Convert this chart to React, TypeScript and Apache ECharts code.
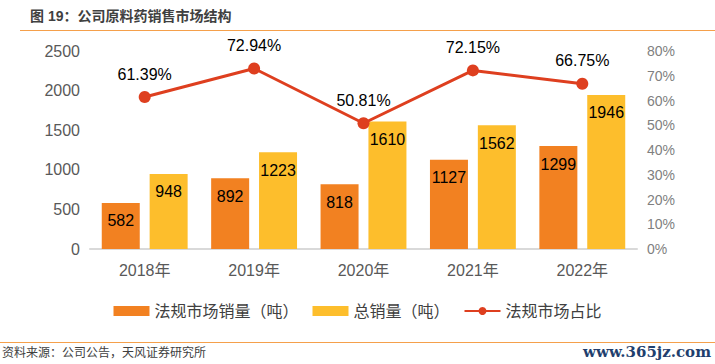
import React, { useEffect, useRef } from "react";
import * as echarts from "echarts";

const categories = ["2018年", "2019年", "2020年", "2021年", "2022年"];
const regulatedSales = [582, 892, 818, 1127, 1299];
const totalSales = [948, 1223, 1610, 1562, 1946];
const regulatedShare = [0.6139, 0.7294, 0.5081, 0.7215, 0.6675];

const FONT = '"Liberation Sans", Arial, "Noto Sans CJK SC", sans-serif';

export default function App() {
  const ref = useRef<HTMLDivElement>(null);
  useEffect(() => {
    if (!ref.current) return;
    const chart = echarts.init(ref.current, null, { renderer: "svg" });
    chart.setOption({
      animation: false,
      textStyle: { fontFamily: FONT },
      graphic: [
        {
          type: "text",
          left: 30,
          top: 9,
          style: {
            text: "图 19：公司原料药销售市场结构",
            fill: "#404040",
            font: `bold 14px ${FONT}`,
          },
        },
        {
          type: "line",
          shape: { x1: 20, y1: 30.5, x2: 715, y2: 30.5 },
          style: { stroke: "#F5A04B", lineWidth: 1 },
        },
        {
          type: "line",
          shape: { x1: 0, y1: 342.5, x2: 715, y2: 342.5 },
          style: { stroke: "#F5A04B", lineWidth: 1 },
        },
        {
          type: "text",
          left: 2,
          top: 347,
          style: {
            text: "资料来源：公司公告，天风证券研究所",
            fill: "#404040",
            font: `12px ${FONT}`,
          },
        },
        {
          type: "text",
          right: 4,
          top: 344,
          style: {
            text: "www.365jz.com",
            fill: "#1F3F6E",
            font: `bold 15px "DejaVu Serif", serif`,
          },
        },
      ],
      legend: {
        top: 298,
        left: "center",
        itemWidth: 36,
        itemHeight: 10,
        itemGap: 14,
        textStyle: { color: "#404040", fontSize: 16, fontFamily: FONT },
        data: [
          { name: "法规市场销量（吨）", icon: "rect" },
          { name: "总销量（吨）", icon: "rect" },
          { name: "法规市场占比" },
        ],
      },
      grid: { left: 90, right: 78, top: 51, bottom: 115 },
      xAxis: {
        type: "category",
        data: categories,
        axisTick: { show: false },
        axisLine: { lineStyle: { color: "#D9D9D9", width: 2 } },
        axisLabel: { color: "#595959", fontSize: 16, margin: 13 },
      },
      yAxis: [
        {
          type: "value",
          min: 0,
          max: 2500,
          interval: 500,
          splitLine: { show: false },
          axisLabel: {
            color: "#595959",
            fontSize: 16,
            margin: 10,
            formatter: (v: number) => String(v),
          },
        },
        {
          type: "value",
          min: 0,
          max: 0.8,
          interval: 0.1,
          splitLine: { show: false },
          axisLabel: {
            color: "#7F7F7F",
            fontSize: 14,
            margin: 10,
            formatter: (v: number) => `${Math.round(v * 100)}%`,
          },
        },
      ],
      series: [
        {
          name: "法规市场销量（吨）",
          type: "bar",
          data: regulatedSales,
          barWidth: 38,
          barGap: "26%",
          itemStyle: { color: "#F28121" },
          label: {
            show: true,
            position: "insideTop",
            distance: 10,
            color: "#000",
            fontSize: 16,
          },
        },
        {
          name: "总销量（吨）",
          type: "bar",
          data: totalSales,
          barWidth: 38,
          itemStyle: { color: "#FDBE2C" },
          label: {
            show: true,
            position: "insideTop",
            distance: 10,
            color: "#000",
            fontSize: 16,
          },
        },
        {
          name: "法规市场占比",
          type: "line",
          yAxisIndex: 1,
          data: regulatedShare,
          symbol: "circle",
          symbolSize: 12,
          itemStyle: { color: "#DE3F1F" },
          lineStyle: { color: "#DE3F1F", width: 3 },
          label: {
            show: true,
            position: "top",
            distance: 9,
            color: "#000",
            fontSize: 16,
            formatter: (p: any) => `${(p.value * 100).toFixed(2)}%`,
          },
        },
      ],
    });
    return () => chart.dispose();
  }, []);
  return (
    <div
      ref={ref}
      style={{ position: "fixed", left: 0, top: 0, width: 715, height: 364, background: "#fff" }}
    />
  );
}
